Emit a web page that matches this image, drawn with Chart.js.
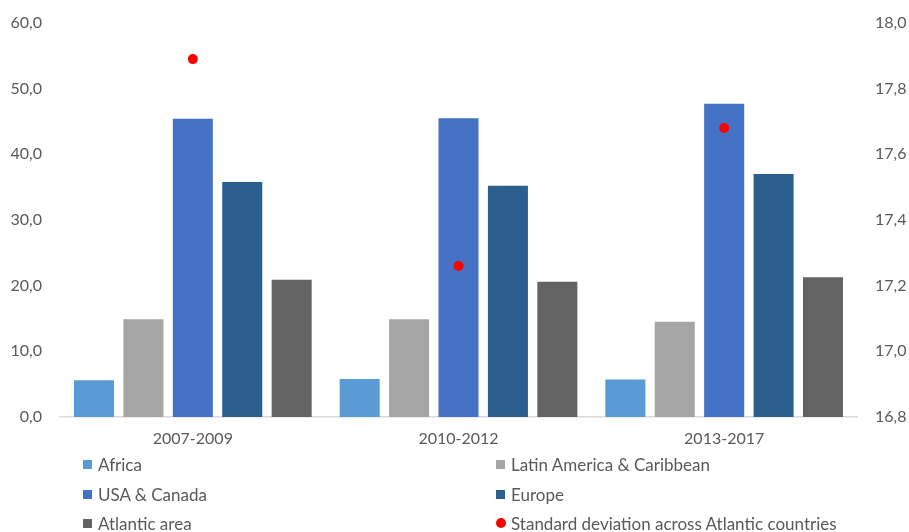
<!DOCTYPE html>
<html>
<head>
<meta charset="utf-8">
<script src="https://cdn.jsdelivr.net/npm/chart.js@4/dist/chart.umd.min.js"></script>
<style>
  html, body { margin: 0; padding: 0; background: #ffffff; }
  #wrap { position: relative; width: 909px; height: 532px; }
  #chart { position: absolute; left: 0; top: 0; }
  #legend { position: absolute; left: 0; top: 0; width: 909px; height: 532px; pointer-events: none;
            font-family: Lato, "Open Sans", sans-serif; font-size: 17px; color: #595959; }
  .item { position: absolute; display: flex; align-items: center; white-space: nowrap; height: 20px; }
  .swatch { width: 9px; height: 9px; margin-right: 6px; flex: none; }
  .dot { width: 10px; height: 10px; border-radius: 50%; margin-right: 5px; flex: none; }
</style>
</head>
<body>
<div id="wrap">
  <canvas id="chart" width="909" height="532"></canvas>
  <div id="legend"></div>
</div>
<script>
// Periods on the category axis
const periods = ["2007-2009", "2010-2012", "2013-2017"];

// Regional values (left axis)
const africa = [5.6, 5.8, 5.7];
const latinAmerica = [14.9, 14.9, 14.5];
const usaCanada = [45.4, 45.5, 47.7];
const europe = [35.8, 35.2, 37.0];
const atlanticArea = [20.9, 20.6, 21.3];

// Dispersion across countries (right axis)
const stdDeviation = [17.89, 17.26, 17.68];

// Tick values for both value axes
const leftTicks = [0, 10, 20, 30, 40, 50, 60];
const rightTicks = [16.8, 17.0, 17.2, 17.4, 17.6, 17.8, 18.0];

const textColor = "#595959";
const fontFamily = "Lato, 'Open Sans', sans-serif";

const commaFmt = (v, d) => Number(v).toFixed(d).replace(".", ",");

const barDs = (label, data, color) => ({
  type: "bar",
  label: label,
  data: data,
  backgroundColor: color,
  borderColor: color,
  borderWidth: 0,
  yAxisID: "y",
  categoryPercentage: 0.93,
  barPercentage: 0.81,
  order: 2
});

// Fixed side-axis width; top padding is left to the layout option
const fitSide = (width) => (s) => {
  s.width = width;
  s.paddingTop = 0;
  s.paddingBottom = 0;
};

const chart = new Chart(document.getElementById("chart"), {
  data: {
    labels: periods,
    datasets: [
      barDs("Africa", africa, "#5B9BD5"),
      barDs("Latin America & Caribbean", latinAmerica, "#A5A5A5"),
      barDs("USA & Canada", usaCanada, "#4472C4"),
      barDs("Europe", europe, "#2A5F8E"),
      barDs("Atlantic area", atlanticArea, "#636363"),
      {
        type: "line",
        label: "Standard deviation across Atlantic countries",
        data: stdDeviation,
        showLine: false,
        pointRadius: 5,
        pointHoverRadius: 5,
        pointBackgroundColor: "#FF0000",
        pointBorderColor: "#FF0000",
        pointBorderWidth: 0,
        backgroundColor: "#FF0000",
        borderColor: "#FF0000",
        yAxisID: "y1",
        order: 1
      }
    ]
  },
  options: {
    responsive: false,
    animation: false,
    layout: { padding: { top: 23, left: 0, right: 0, bottom: 0 } },
    plugins: {
      legend: { display: false },
      tooltip: { enabled: false }
    },
    scales: {
      x: {
        grid: { display: false, drawTicks: false },
        border: { display: true, color: "#D9D9D9", width: 1.5 },
        ticks: { color: textColor, font: { family: fontFamily, size: 16 }, padding: 12 },
        afterFit: (s) => { s.height = 532 - 417; }
      },
      y: {
        position: "left",
        min: 0,
        max: 60,
        afterBuildTicks: (s) => { s.ticks = leftTicks.map(v => ({ value: v })); },
        grid: { display: false, drawTicks: false },
        border: { display: false },
        ticks: {
          color: textColor,
          font: { family: fontFamily, size: 16 },
          padding: 18,
          callback: (v) => commaFmt(v, 1)
        },
        afterFit: fitSide(60)
      },
      y1: {
        position: "right",
        min: 16.8,
        max: 18.0,
        afterBuildTicks: (s) => { s.ticks = rightTicks.map(v => ({ value: v })); },
        grid: { display: false, drawTicks: false },
        border: { display: false },
        ticks: {
          color: textColor,
          font: { family: fontFamily, size: 16 },
          padding: 18,
          callback: (v) => commaFmt(v, 1)
        },
        afterFit: fitSide(909 - 857)
      }
    }
  }
});

// Two-column legend under the plot, built from the chart's own legend items (dataset order)
const legendEl = document.getElementById("legend");
const items = chart.options.plugins.legend.labels.generateLabels(chart)
  .sort((a, b) => a.datasetIndex - b.datasetIndex);
const colX = [83, 496];
const rowY = [454, 484, 513];
items.forEach((it, i) => {
  const ds = chart.data.datasets[it.datasetIndex];
  const div = document.createElement("div");
  div.className = "item";
  div.style.left = colX[i % 2] + "px";
  div.style.top = rowY[Math.floor(i / 2)] + "px";
  const mark = document.createElement("span");
  const isDot = ds.type === "line";
  mark.className = isDot ? "dot" : "swatch";
  mark.style.background = isDot ? ds.pointBackgroundColor : ds.backgroundColor;
  const txt = document.createElement("span");
  txt.textContent = it.text;
  div.appendChild(mark);
  div.appendChild(txt);
  legendEl.appendChild(div);
});
</script>
</body>
</html>
